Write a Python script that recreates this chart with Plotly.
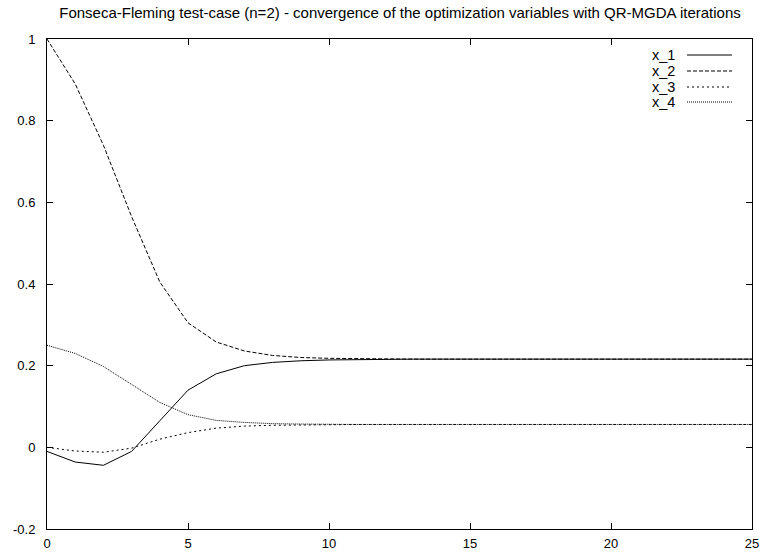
import plotly.graph_objects as go

iterations = list(range(0, 26))
x_1 = [-0.010, -0.036, -0.044, -0.010, 0.065, 0.140, 0.180, 0.200, 0.208, 0.212, 0.214, 0.215,
       0.216, 0.216, 0.216, 0.216, 0.216, 0.216, 0.216, 0.216, 0.216, 0.216, 0.216, 0.216, 0.216, 0.216]
x_2 = [1.000, 0.890, 0.740, 0.565, 0.405, 0.305, 0.258, 0.236, 0.225, 0.220, 0.218, 0.217,
       0.216, 0.216, 0.216, 0.216, 0.216, 0.216, 0.216, 0.216, 0.216, 0.216, 0.216, 0.216, 0.216, 0.216]
x_3 = [0.000, -0.009, -0.012, -0.002, 0.020, 0.036, 0.047, 0.052, 0.054, 0.055, 0.056, 0.056,
       0.056, 0.056, 0.056, 0.056, 0.056, 0.056, 0.056, 0.056, 0.056, 0.056, 0.056, 0.056, 0.056, 0.056]
x_4 = [0.250, 0.230, 0.198, 0.155, 0.110, 0.080, 0.066, 0.061, 0.058, 0.057, 0.056, 0.056,
       0.056, 0.056, 0.056, 0.056, 0.056, 0.056, 0.056, 0.056, 0.056, 0.056, 0.056, 0.056, 0.056, 0.056]

series_names = ["x_1", "x_2", "x_3", "x_4"]
series_values = [x_1, x_2, x_3, x_4]
dashes = ["solid", "4px,2px", "2px,3px", "1px,1px"]

x_ticks = [0, 5, 10, 15, 20, 25]
y_ticks = [-0.2, 0, 0.2, 0.4, 0.6, 0.8, 1]
y_tick_labels = ["-0.2", "0", "0.2", "0.4", "0.6", "0.8", "1"]

title = "Fonseca-Fleming test-case (n=2) - convergence of the optimization variables with QR-MGDA iterations"

FONT = "Liberation Sans, Arial, sans-serif"
W, H = 764, 553
# plot area in page pixels: left 47, top 39, right 752, bottom 529
L, T = 47, 39
R = W - 752
B = H - 529

fig = go.Figure()
for name, vals, d in zip(series_names, series_values, dashes):
    fig.add_trace(go.Scatter(x=iterations, y=vals, mode="lines", name=name,
                             line=dict(color="black", width=1, dash=d),
                             showlegend=False, hoverinfo="skip"))

# gnuplot-style key (text left, sample right), positions in page pixels
pw = W - L - R
ph = H - T - B
legend_y_px = [55, 71, 87, 102]
for name, d, ypx in zip(series_names, dashes, legend_y_px):
    yp = 1 - (ypx - T) / ph
    fig.add_annotation(x=(677 - L) / pw, y=yp, xref="paper", yref="paper", text=name,
                       showarrow=False, xanchor="right", yanchor="middle",
                       font=dict(family=FONT, size=14.5, color="black"))
    fig.add_shape(type="line", xref="paper", yref="paper",
                  x0=(687 - L) / pw, x1=(732 - L) / pw, y0=yp, y1=yp,
                  line=dict(color="black", width=1, dash=d))

axis_common = dict(showgrid=False, zeroline=False, showline=True, linecolor="black", linewidth=1,
                   ticks="inside", ticklen=6, tickcolor="black", mirror="ticks", automargin=False,
                   tickfont=dict(family=FONT, size=13, color="black"))

fig.update_layout(
    width=W, height=H,
    margin=dict(l=L, r=R, t=T, b=B, autoexpand=False),
    paper_bgcolor="white", plot_bgcolor="white",
    title=dict(text=title, x=400 / W, xanchor="center", y=1 - 13 / H, yanchor="middle",
               font=dict(family=FONT, size=15, color="black")),
    xaxis=dict(range=[0, 25], tickvals=x_ticks, ticktext=[str(v) for v in x_ticks],
               ticklabelstandoff=2, **axis_common),
    yaxis=dict(range=[-0.2, 1], tickvals=y_ticks, ticktext=y_tick_labels,
               ticklabelstandoff=8, **axis_common),
)

fig.write_html("out.html",
               config={"displayModeBar": False, "staticPlot": True},
               post_script="document.body.style.margin='0';document.body.style.padding='0';")
